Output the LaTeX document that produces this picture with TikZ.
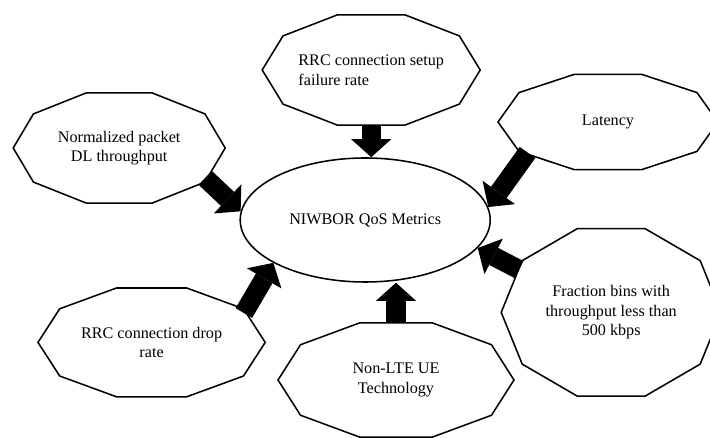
\documentclass[tikz,border=0pt]{standalone}
\usepackage{fontspec}
\setmainfont{Liberation Serif}
\usepackage{tikz}
\usetikzlibrary{positioning, arrows.meta, calc, shapes.geometric}

\newcommand{\decagon}[3]{%
  \draw[line width=1.1pt, shift={(#1.center)}] (0:#2 and #3)
    \foreach \t in {36,72,...,324} { -- (\t:#2 and #3) } -- cycle;}

\begin{document}
\begin{tikzpicture}[
    metric/.style={ellipse, inner sep=0pt, align=center,
                   font=\fontsize{11.5}{14}\selectfont},
    feed/.style={line width=0.48cm, shorten <=-2.5pt,
                 -{Triangle[width=1cm, length=0.45cm, line width=0pt]}}]
    \useasboundingbox (0,0) rectangle (17.75,10.95);

    \node[metric, draw, line width=1.1pt, minimum width=6.25cm, minimum height=3.1cm] (qos) at (9.13,5.45) {NIWBOR QoS Metrics};

    \node[metric, minimum width=5.3cm, minimum height=2.9cm] (npt) at (2.98,7.25) {Normalized packet\\DL throughput};
    \node[metric, minimum width=5.45cm, minimum height=2.9cm, align=left] (setup) at (9.28,9.2) {RRC connection setup\\failure rate};
    \node[metric, minimum width=5.5cm, minimum height=2.5cm] (latency) at (15.2,7.9) {Latency};
    \node[metric, minimum width=5.5cm, minimum height=4.4cm] (frac) at (15.28,3.14) {Fraction bins with\\throughput less than\\500 kbps};
    \node[metric, minimum width=5.9cm, minimum height=3cm] (nonlte) at (9.9,1.45) {Non-LTE UE\\Technology};
    \node[metric, minimum width=5.68cm, minimum height=2.86cm] (drop) at (3.79,2.39) {RRC connection drop\\rate};

    \decagon{npt}{2.65}{1.45}
    \decagon{setup}{2.725}{1.45}
    \decagon{latency}{2.75}{1.25}
    \decagon{frac}{2.75}{2.2}
    \decagon{nonlte}{2.95}{1.5}
    \decagon{drop}{2.84}{1.43}

    \draw[feed] (npt.-20) -- (qos.176);
    \draw[feed] (setup.south) -- (setup.south |- qos.north);
    \draw[feed] (latency.202) -- (qos.6);
    \draw[feed] (frac.155) -- (qos.-14);
    \draw[feed] (nonlte.north) -- (nonlte.north |- qos.south);
    \draw[feed] (drop.19) -- (qos.205);
\end{tikzpicture}
\end{document}
